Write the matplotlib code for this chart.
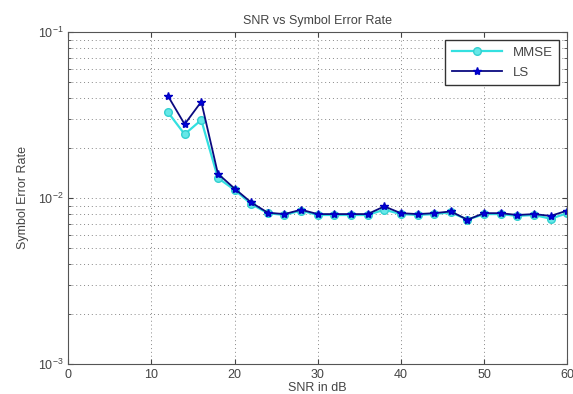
import matplotlib
matplotlib.use("Agg")
import matplotlib.pyplot as plt
from matplotlib.ticker import LogLocator, NullFormatter

snr = [12, 14, 16, 18, 20, 22, 24, 26, 28, 30, 32, 34, 36, 38, 40, 42, 44, 46, 48, 50, 52, 54, 56, 58, 60]
ser_ls = [0.0411, 0.0278, 0.0380, 0.0140, 0.0114, 0.0094, 0.00815, 0.0080, 0.0085, 0.0080, 0.0080, 0.0080,
          0.0080, 0.0089, 0.0081, 0.0080, 0.0081, 0.0083, 0.0074, 0.0081, 0.0081, 0.0079, 0.0080, 0.0078, 0.0084]
ser_mmse = [0.0328, 0.0242, 0.0295, 0.0132, 0.0112, 0.0092, 0.0081, 0.0079, 0.0084, 0.0079, 0.0079, 0.0079,
            0.0079, 0.0085, 0.0080, 0.0079, 0.0080, 0.0082, 0.0074, 0.0080, 0.0080, 0.0078, 0.0079, 0.0075, 0.0081]

plt.rcParams['font.family'] = ['Liberation Sans', 'DejaVu Sans']
text_col = "#444444"

fig = plt.figure(figsize=(5.73, 3.94), dpi=100)
ax = fig.add_axes([0.119, 0.076, 0.871, 0.843])

ax.semilogy(snr, ser_mmse, color="#33e0e0", lw=1.6, marker="o", ms=5.5,
            mfc="#66e8e8", mec="#33d0d0", label="MMSE")
ax.semilogy(snr, ser_ls, color="#0a0a80", lw=1.3, marker="*", ms=6,
            mfc="#0000e0", mec="#0000c0", label="LS")

ax.set_xlim(0, 60)
ax.set_ylim(1e-3, 1e-1)
ax.set_xticks([0, 10, 20, 30, 40, 50, 60])
ax.yaxis.set_major_locator(LogLocator(base=10))
ax.yaxis.set_minor_locator(LogLocator(base=10, subs=range(2, 10)))
ax.yaxis.set_minor_formatter(NullFormatter())

ax.grid(True, which="major", ls=(0, (1, 3)), color="#888888", lw=0.7)
ax.grid(True, which="minor", axis="y", ls=(0, (1, 3)), color="#888888", lw=0.7)
ax.tick_params(which="both", direction="in", top=True, right=True, labelsize=9, colors=text_col)
ax.tick_params(which="minor", length=2)
for s in ax.spines.values():
    s.set_color("#555555")

ax.set_title("SNR vs Symbol Error Rate", fontsize=9, color=text_col, pad=6)
ax.set_xlabel("SNR in dB", fontsize=9, color=text_col, labelpad=1)
ax.set_ylabel("Symbol Error Rate", fontsize=9, color=text_col, labelpad=6)

leg = ax.legend(loc="upper right", fontsize=9.5, fancybox=False, framealpha=1,
                edgecolor="#333333", handlelength=3.8, borderaxespad=0.6,
                borderpad=0.5, labelspacing=0.6)
for t in leg.get_texts():
    t.set_color(text_col)

fig.savefig("out.png", dpi=100)
